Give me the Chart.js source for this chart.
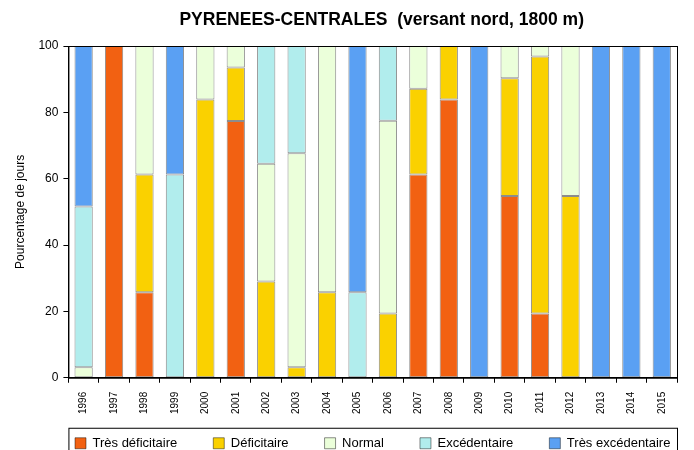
<!DOCTYPE html>
<html>
<head>
<meta charset="utf-8">
<script src="https://cdn.jsdelivr.net/npm/chart.js@4/dist/chart.umd.min.js"></script>
<style>
  html, body { margin: 0; padding: 0; background: #fff; overflow: hidden; }
  #wrap { width: 694px; height: 482px; position: relative; }
</style>
</head>
<body>
<div id="wrap"><canvas id="myChart"></canvas></div>
<script>
// years and % of days per class (roughly x/31)
var years = ["1996","1997","1998","1999","2000","2001","2002","2003","2004","2005",
             "2006","2007","2008","2009","2010","2011","2012","2013","2014","2015"];
var tresDeficitaire  = [null,100,25.8,null,null,77.4,null,null,null,null,null,61.3,83.9,null,54.8,19.4,null,null,null,null];
var deficitaire      = [null,null,35.5,null,83.9,16.1,29.0,3.2,25.8,null,19.4,25.8,16.1,null,35.5,77.4,54.8,null,null,null];
var normal           = [3.2,null,38.7,null,16.1,6.5,35.5,64.5,74.2,null,58.1,12.9,null,null,9.7,3.2,45.2,null,null,null];
var excedentaire     = [48.4,null,null,61.3,null,null,35.5,32.3,null,25.8,22.6,null,null,null,null,null,null,null,null,null];
var tresExcedentaire = [48.4,null,null,38.7,null,null,null,null,null,74.2,null,null,null,100,null,null,null,100,100,100];
var yTicks = [0, 20, 40, 60, 80, 100];

var names  = ["Très déficitaire", "Déficitaire", "Normal", "Excédentaire", "Très excédentaire"];
var colors = ["#f26112", "#fad100", "#ebffda", "#b1eded", "#5aa0f3"];
var series = [tresDeficitaire, deficitaire, normal, excedentaire, tresExcedentaire];

var datasets = [];
for (var i = 0; i < series.length; i++) {
    datasets.push({
        label: names[i],
        data: series[i],
        backgroundColor: colors[i],
        borderColor: "rgba(0,0,0,0.45)",
        borderWidth: 1,
        borderSkipped: false,
        barPercentage: 0.6,
        categoryPercentage: 1.0
    });
}

var legendPad = 36;

// legend: centred on the plot and pulled up under the year labels
var placePlugin = {
    id: "place",
    afterLayout: function (chart) {
        var a = chart.chartArea;
        var lg = chart.legend;
        var h = lg.bottom - lg.top;
        var shift = (a.left + a.right) / 2 - (lg.left + lg.right) / 2;
        lg.left += shift;
        lg.right += shift;
        lg.top = a.bottom + 23;
        lg.bottom = lg.top + h;
        var t = chart.titleBlock;
        t.left += 9;
        t.right += 9;
    }
};

// black frame round the plot + box round the legend
var framePlugin = {
    id: "frame",
    afterDraw: function (chart) {
        var ctx = chart.ctx;
        var a = chart.chartArea;
        ctx.save();
        ctx.strokeStyle = "#000";
        ctx.lineWidth = 1;
        ctx.strokeRect(a.left + 0.5, a.top + 0.5, a.right - a.left, a.bottom - a.top);
        var lg = chart.legend;
        ctx.strokeRect(a.left + 0.5, lg.top + legendPad - 9 + 0.5, a.right - a.left, 40);
        ctx.restore();
    }
};

Chart.defaults.font.family = "'Liberation Sans', Arial, sans-serif";
Chart.defaults.color = "#000";

new Chart("myChart", {
    type: "bar",
    data: { labels: years, datasets: datasets },
    plugins: [placePlugin, framePlugin],
    options: {
        responsive: true,
        maintainAspectRatio: false,
        animation: false,
        layout: { padding: { left: 9, right: 17, top: 0, bottom: 0 } },
        scales: {
            x: {
                stacked: true,
                border: { display: true, color: "#000" },
                grid: { display: true, drawOnChartArea: false, offset: true, tickLength: 5, color: "#000" },
                ticks: { font: { size: 10 }, maxRotation: 90, minRotation: 90, padding: 9, autoSkip: false }
            },
            y: {
                stacked: true,
                min: 0,
                max: 100,
                afterBuildTicks: function (axis) {
                    axis.ticks = yTicks.map(function (v) { return { value: v }; });
                },
                border: { display: true, color: "#000" },
                grid: { display: true, drawOnChartArea: false, tickLength: 5, color: "#000" },
                ticks: { font: { size: 12 }, padding: 5 },
                title: { display: true, text: "Pourcentage de jours", font: { size: 12 }, padding: { bottom: 6 } }
            }
        },
        plugins: {
            title: {
                display: true,
                fullSize: false,
                text: "PYRENEES-CENTRALES  (versant nord, 1800 m)",
                font: { size: 17.5, weight: "bold" },
                padding: { top: 10, bottom: 15 }
            },
            legend: {
                position: "bottom",
                labels: {
                    boxWidth: 11,
                    boxHeight: 11,
                    padding: legendPad,
                    font: { size: 13 },
                    color: "#000"
                }
            },
            tooltip: { enabled: false }
        }
    }
});
</script>
</body>
</html>
